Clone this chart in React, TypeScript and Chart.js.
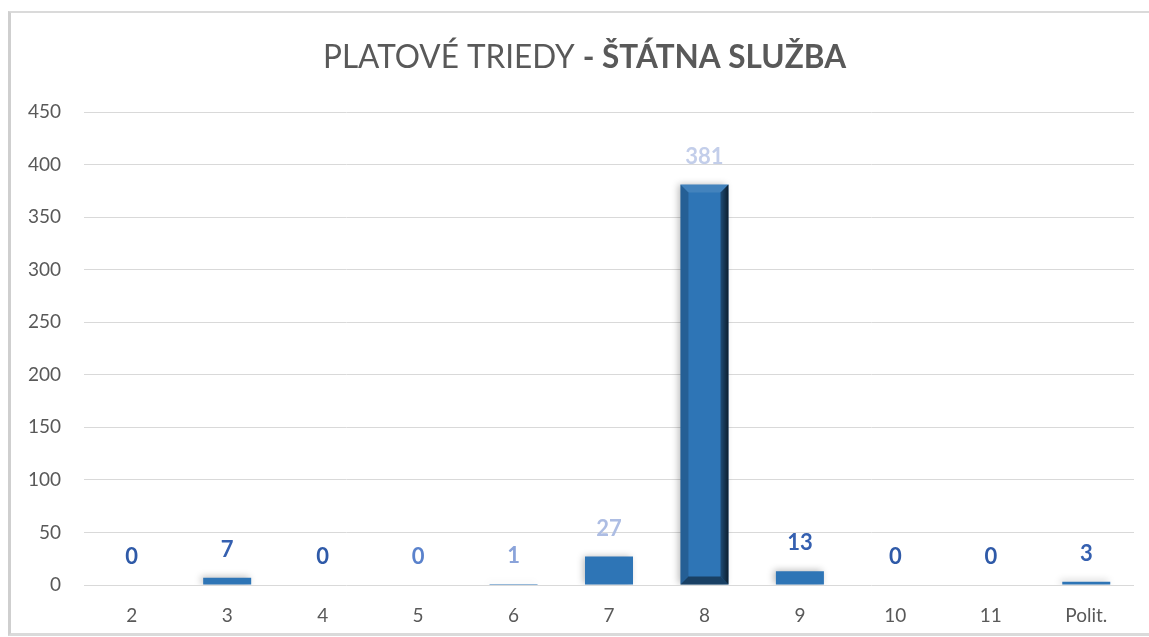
import React, { useEffect, useRef } from "react";
import { Chart, registerables } from "chart.js";

Chart.register(...registerables);

const categories = ["2", "3", "4", "5", "6", "7", "8", "9", "10", "11", "Polit."];
const values = [0, 7, 0, 0, 1, 27, 381, 13, 0, 0, 3];
const yTicks = [0, 50, 100, 150, 200, 250, 300, 350, 400, 450];
const titleNormal = "PLATOVÉ TRIEDY ";
const titleBold = "- ŠTÁTNA SLUŽBA";
const labelColors = [
  "#2F5AA8", "#3560B0", "#2F5AA8", "#5A82CC", "#8AA3DA", "#ADBDE3",
  "#C3CEEA", "#3560B0", "#2F5AA8", "#2F5AA8", "#3560B0",
];

const FONT = "Lato, 'Open Sans', sans-serif";

const shadowPlugin = {
  id: "barShadow",
  beforeDatasetsDraw(chart: any) {
    const ctx = chart.ctx;
    ctx.save();
    ctx.shadowColor = "rgba(0,0,0,0.28)";
    ctx.shadowBlur = 7;
    ctx.shadowOffsetX = -2;
    ctx.shadowOffsetY = -1;
  },
  afterDatasetsDraw(chart: any) {
    const ctx = chart.ctx;
    ctx.restore();
    const meta = chart.getDatasetMeta(0);
    meta.data.forEach((bar: any) => {
      const h = bar.base - bar.y;
      if (h < 60) return;
      const w = bar.width;
      const l = bar.x - w / 2;
      const r = bar.x + w / 2;
      const t = bar.y;
      const b = bar.base;
      const bv = 8;
      ctx.save();
      ctx.fillStyle = "rgba(255,255,255,0.10)";
      ctx.beginPath();
      ctx.moveTo(l, t); ctx.lineTo(r, t); ctx.lineTo(r - bv, t + bv); ctx.lineTo(l + bv, t + bv); ctx.closePath(); ctx.fill();
      ctx.fillStyle = "rgba(0,0,0,0.18)";
      ctx.beginPath();
      ctx.moveTo(l, t); ctx.lineTo(l + bv, t + bv); ctx.lineTo(l + bv, b - bv); ctx.lineTo(l, b); ctx.closePath(); ctx.fill();
      const g = ctx.createLinearGradient(r - bv, 0, r, 0);
      g.addColorStop(0, "rgba(0,0,0,0.35)");
      g.addColorStop(1, "rgba(0,0,0,0.75)");
      ctx.fillStyle = g;
      ctx.beginPath();
      ctx.moveTo(r, t); ctx.lineTo(r, b); ctx.lineTo(r - bv, b - bv); ctx.lineTo(r - bv, t + bv); ctx.closePath(); ctx.fill();
      ctx.fillStyle = "rgba(0,0,0,0.45)";
      ctx.beginPath();
      ctx.moveTo(l, b); ctx.lineTo(r, b); ctx.lineTo(r - bv, b - bv); ctx.lineTo(l + bv, b - bv); ctx.closePath(); ctx.fill();
      ctx.restore();
    });
  },
};

const labelsPlugin = {
  id: "valueLabels",
  afterDatasetsDraw(chart: any) {
    const ctx = chart.ctx;
    const meta = chart.getDatasetMeta(0);
    ctx.save();
    ctx.font = `bold 22px ${FONT}`;
    ctx.textAlign = "center";
    ctx.textBaseline = "alphabetic";
    meta.data.forEach((bar: any, i: number) => {
      ctx.fillStyle = labelColors[i];
      ctx.fillText(String(values[i]), bar.x, bar.y - 21);
    });
    ctx.restore();
  },
};

const titlePlugin = {
  id: "mixedTitle",
  afterDraw(chart: any) {
    const ctx = chart.ctx;
    ctx.save();
    const size = 32;
    ctx.font = `${size}px ${FONT}`;
    const w1 = ctx.measureText(titleNormal).width;
    ctx.font = `bold ${size}px ${FONT}`;
    const w2 = ctx.measureText(titleBold).width;
    const total = w1 + w2;
    const target = 523;
    const sx = target / total;
    const cx = 573.5;
    const baseY = 55;
    ctx.translate(cx - target / 2, baseY);
    ctx.scale(sx, 1);
    ctx.fillStyle = "#595959";
    ctx.textAlign = "left";
    ctx.textBaseline = "alphabetic";
    ctx.font = `${size}px ${FONT}`;
    ctx.fillText(titleNormal, 0, 0);
    ctx.font = `bold ${size}px ${FONT}`;
    ctx.fillText(titleBold, w1, 0);
    ctx.restore();
  },
};

export default function App() {
  const ref = useRef<HTMLCanvasElement | null>(null);
  useEffect(() => {
    if (!ref.current) return;
    const chart = new Chart(ref.current, {
      type: "bar",
      data: {
        labels: categories,
        datasets: [
          {
            data: values,
            backgroundColor: "#2E75B6",
            borderWidth: 0,
            barPercentage: 0.503,
            categoryPercentage: 1,
          },
        ],
      },
      options: {
        animation: false,
        responsive: false,
        devicePixelRatio: 1,
        layout: { padding: { top: 99, right: 15, left: 0, bottom: 0 } },
        plugins: {
          legend: { display: false },
          title: { display: false },
          tooltip: { enabled: false },
        },
        scales: {
          x: {
            grid: { display: false, drawTicks: false },
            border: { display: false },
            ticks: {
              color: "#595959",
              font: { family: FONT, size: 19 },
              padding: 19,
              maxRotation: 0,
            },
            afterFit(scale: any) {
              scale.height = 48;
            },
          },
          y: {
            min: 0,
            max: 450,
            afterBuildTicks(scale: any) {
              scale.ticks = yTicks.map((v) => ({ value: v }));
            },
            grid: { color: "#D9D9D9", lineWidth: 1, drawTicks: false },
            border: { display: false },
            ticks: {
              color: "#595959",
              font: { family: FONT, size: 19 },
              padding: 23,
            },
            afterFit(scale: any) {
              scale.width = 73;
            },
          },
        },
      },
      plugins: [shadowPlugin, labelsPlugin, titlePlugin],
    });
    return () => chart.destroy();
  }, []);

  return (
    <div
      style={{
        position: "fixed",
        left: 8,
        top: 11,
        width: 1160,
        height: 625,
        boxSizing: "border-box",
        borderTop: "2px solid #DADADA",
        borderLeft: "3px solid #CFCFCF",
        borderBottom: "3px solid #DADADA",
        background: "#fff",
      }}
    >
      <canvas
        ref={ref}
        width={1138}
        height={620}
        style={{ display: "block", width: 1138, height: 620 }}
      />
    </div>
  );
}
